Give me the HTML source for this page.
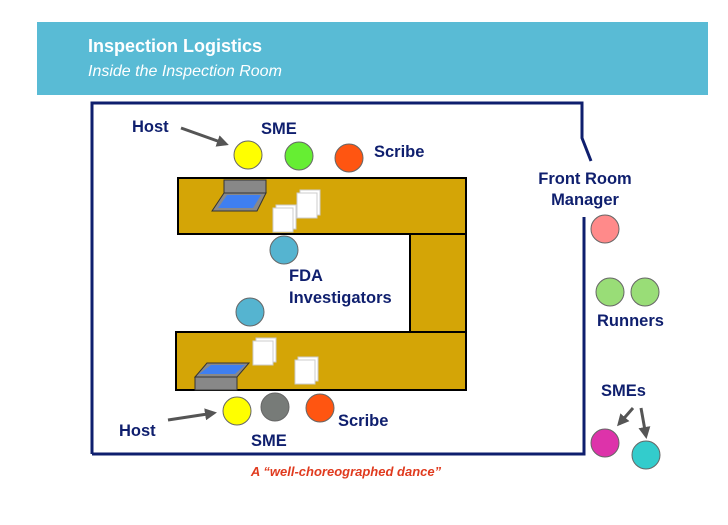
<!DOCTYPE html>
<html><head><meta charset="utf-8"><style>
html,body{margin:0;padding:0;background:#fff;}
svg{display:block;font-family:"Liberation Sans",Arial,sans-serif;}
.l{fill:#0f1f6e;font-weight:bold;font-size:16.5px;}
</style></head><body>
<svg width="728" height="525" viewBox="0 0 728 525" xmlns="http://www.w3.org/2000/svg">
<defs><marker id="ar" markerWidth="12" markerHeight="12" refX="9" refY="6" orient="auto" markerUnits="userSpaceOnUse"><path d="M0,0 L12,6 L0,12 Z" fill="#555"/></marker></defs>
<rect x="37" y="22" width="671" height="73" fill="#59bbd5"/>
<text x="88" y="52" fill="#fff" font-size="18" font-weight="bold">Inspection Logistics</text>
<text x="88" y="76" fill="#fff" font-size="16" font-style="italic">Inside the Inspection Room</text>
<path d="M92,454 L92,103 L582,103 L582,138 L591,161" fill="none" stroke="#0f1f6e" stroke-width="3"/>
<path d="M584,217 L584,454 L92,454" fill="none" stroke="#0f1f6e" stroke-width="3"/>
<rect x="410" y="234" width="56" height="98" fill="#d4a506" stroke="#000" stroke-width="2"/>
<rect x="178" y="178" width="288" height="56" fill="#d4a506" stroke="#000" stroke-width="2"/>
<rect x="176" y="332" width="290" height="58" fill="#d4a506" stroke="#000" stroke-width="2"/>
<rect x="224" y="180" width="42" height="13" fill="#888" stroke="#333"/>
<polygon points="224,193 266,193 257,211 212,211" fill="#888" stroke="#333"/>
<polygon points="227,195 261,195 253,208 218,208" fill="#3f7ff0"/>
<rect x="300" y="190" width="20" height="25" fill="#fff" stroke="#ccc"/>
<rect x="297" y="193" width="20" height="25" fill="#fff" stroke="#ccc"/>
<rect x="276" y="205" width="20" height="24" fill="#fff" stroke="#ccc"/>
<rect x="273" y="208" width="20" height="24" fill="#fff" stroke="#ccc"/>
<polygon points="207,363 249,363 237,377 195,377" fill="#888" stroke="#333"/>
<polygon points="211,365 245,365 235,374 199,374" fill="#3f7ff0"/>
<rect x="195" y="377" width="42" height="13" fill="#888" stroke="#333"/>
<rect x="256" y="338" width="20" height="24" fill="#fff" stroke="#ccc"/>
<rect x="253" y="341" width="20" height="24" fill="#fff" stroke="#ccc"/>
<rect x="298" y="357" width="20" height="24" fill="#fff" stroke="#ccc"/>
<rect x="295" y="360" width="20" height="24" fill="#fff" stroke="#ccc"/>
<g stroke="#666" stroke-width="1">
<circle cx="248" cy="155" r="14" fill="#ffff00"/>
<circle cx="299" cy="156" r="14" fill="#66ee33"/>
<circle cx="349" cy="158" r="14" fill="#ff5511"/>
<circle cx="284" cy="250" r="14" fill="#55b4d0"/>
<circle cx="250" cy="312" r="14" fill="#55b4d0"/>
<circle cx="237" cy="411" r="14" fill="#ffff00"/>
<circle cx="275" cy="407" r="14" fill="#777b78"/>
<circle cx="320" cy="408" r="14" fill="#ff5511"/>
<circle cx="605" cy="229" r="14" fill="#ff8a8a"/>
<circle cx="610" cy="292" r="14" fill="#99dd77"/>
<circle cx="645" cy="292" r="14" fill="#99dd77"/>
<circle cx="605" cy="443" r="14" fill="#dd33aa"/>
<circle cx="646" cy="455" r="14" fill="#33cccc"/>
</g>
<g stroke="#555" stroke-width="3" marker-end="url(#ar)">
<line x1="181" y1="128" x2="226" y2="144"/>
<line x1="168" y1="420" x2="214" y2="413"/>
<line x1="633" y1="408" x2="619" y2="424"/>
<line x1="641" y1="408" x2="646" y2="436"/>
</g>
<text class="l" x="132" y="132">Host</text>
<text class="l" x="261" y="134">SME</text>
<text class="l" x="374" y="157">Scribe</text>
<text class="l" x="289" y="281">FDA</text>
<text class="l" x="289" y="303">Investigators</text>
<text class="l" x="585" y="184" text-anchor="middle">Front Room</text>
<text class="l" x="585" y="205" text-anchor="middle">Manager</text>
<text class="l" x="597" y="326">Runners</text>
<text class="l" x="601" y="396">SMEs</text>
<text class="l" x="119" y="436">Host</text>
<text class="l" x="251" y="446">SME</text>
<text class="l" x="338" y="426">Scribe</text>
<text x="346" y="476" text-anchor="middle" fill="#e03a1e" font-size="13" font-weight="bold" font-style="italic">A “well-choreographed dance”</text>
</svg>
</body></html>
